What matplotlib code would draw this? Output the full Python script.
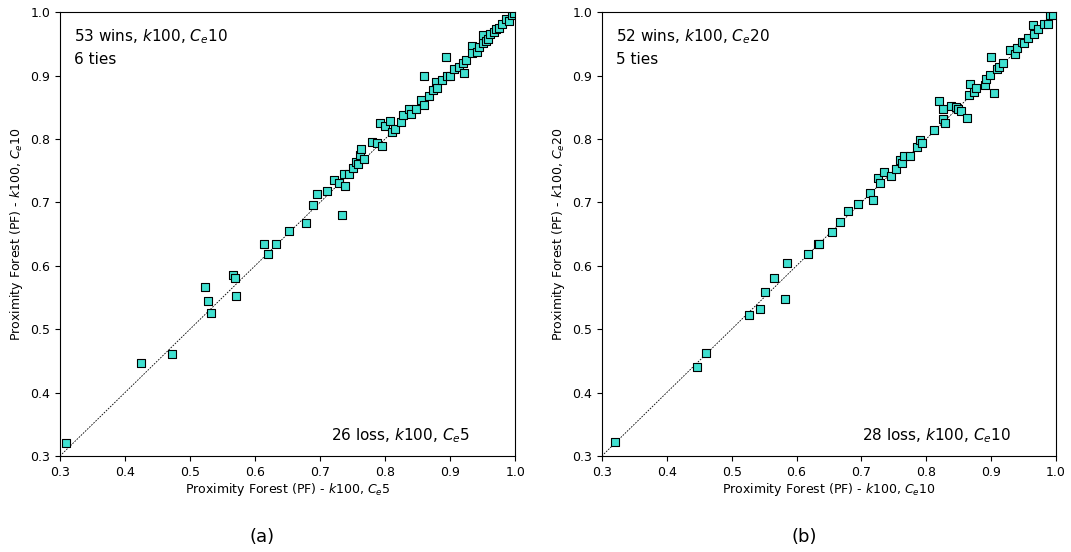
import numpy as np
import matplotlib.pyplot as plt

# accuracy per dataset, panel (a): Ce5 (x) vs Ce10 (y)
a_x = [0.310, 0.425, 0.473, 0.523, 0.527, 0.533, 0.566, 0.569, 0.570, 0.613,
       0.620, 0.632, 0.652, 0.679, 0.689, 0.696, 0.710, 0.722, 0.729, 0.733,
       0.737, 0.739, 0.745, 0.750, 0.756, 0.758, 0.761, 0.763, 0.768, 0.780,
       0.788, 0.792, 0.796, 0.800, 0.808, 0.810, 0.815, 0.824, 0.828, 0.836,
       0.840, 0.848, 0.855, 0.860, 0.860, 0.867, 0.874, 0.878, 0.880, 0.887,
       0.893, 0.895, 0.900, 0.906, 0.914, 0.920, 0.922, 0.925, 0.933, 0.933,
       0.941, 0.945, 0.950, 0.951, 0.955, 0.959, 0.962, 0.967, 0.971, 0.975,
       0.980, 0.986, 0.990, 0.995, 0.998]
a_y = [0.321, 0.447, 0.461, 0.566, 0.545, 0.526, 0.586, 0.581, 0.553, 0.635,
       0.618, 0.635, 0.655, 0.668, 0.696, 0.713, 0.718, 0.735, 0.730, 0.680,
       0.744, 0.726, 0.745, 0.754, 0.764, 0.760, 0.774, 0.784, 0.768, 0.795,
       0.794, 0.825, 0.789, 0.820, 0.829, 0.811, 0.815, 0.827, 0.838, 0.847,
       0.840, 0.848, 0.862, 0.853, 0.900, 0.868, 0.877, 0.890, 0.880, 0.893,
       0.929, 0.899, 0.900, 0.910, 0.914, 0.919, 0.904, 0.925, 0.946, 0.936,
       0.937, 0.945, 0.952, 0.964, 0.955, 0.957, 0.966, 0.968, 0.973, 0.975,
       0.981, 0.989, 0.986, 0.995, 0.998]

# panel (b): Ce10 (x) vs Ce20 (y)
b_x = [0.320, 0.447, 0.461, 0.526, 0.544, 0.552, 0.566, 0.582, 0.586, 0.618,
       0.633, 0.635, 0.655, 0.667, 0.680, 0.695, 0.713, 0.718, 0.726, 0.729,
       0.735, 0.745, 0.754, 0.760, 0.762, 0.766, 0.775, 0.785, 0.791, 0.794,
       0.812, 0.820, 0.826, 0.826, 0.829, 0.838, 0.846, 0.849, 0.853, 0.863,
       0.866, 0.867, 0.874, 0.877, 0.891, 0.892, 0.898, 0.905, 0.900, 0.909,
       0.912, 0.919, 0.929, 0.937, 0.940, 0.947, 0.951, 0.957, 0.964, 0.966,
       0.973, 0.982, 0.988, 0.991, 0.995]
b_y = [0.322, 0.441, 0.463, 0.523, 0.532, 0.559, 0.581, 0.547, 0.605, 0.618,
       0.634, 0.634, 0.653, 0.669, 0.687, 0.698, 0.714, 0.704, 0.739, 0.731,
       0.748, 0.742, 0.753, 0.767, 0.762, 0.773, 0.773, 0.788, 0.799, 0.794,
       0.814, 0.860, 0.847, 0.831, 0.825, 0.852, 0.850, 0.848, 0.844, 0.833,
       0.869, 0.886, 0.874, 0.881, 0.885, 0.895, 0.901, 0.872, 0.930, 0.910,
       0.914, 0.919, 0.940, 0.934, 0.943, 0.953, 0.952, 0.960, 0.979, 0.966,
       0.973, 0.982, 0.982, 0.995, 0.995]

panels = [
    (a_x, a_y, "$k100$, $C_e5$", "$k100$, $C_e10$", "53 wins, $k100$, $C_e10$", "6 ties",
     "26 loss, $k100$, $C_e5$", "(a)"),
    (b_x, b_y, "$k100$, $C_e10$", "$k100$, $C_e20$", "52 wins, $k100$, $C_e20$", "5 ties",
     "28 loss, $k100$, $C_e10$", "(b)"),
]

fig = plt.figure(figsize=(10.71, 5.52), dpi=100)
rects = [[0.056, 0.174, 0.425, 0.804], [0.562, 0.174, 0.424, 0.804]]
ticks = np.arange(0.3, 1.01, 0.1)

for rect, (xs, ys, xl, yl, win, tie, loss, cap) in zip(rects, panels):
    ax = fig.add_axes(rect)
    ax.plot([0.3, 1.0], [0.3, 1.0], 'k--', lw=0.6, dashes=(2, 1.5), zorder=1)
    ax.scatter(xs, ys, marker='s', s=36, c='#40E0D0', edgecolors='black',
               linewidths=0.8, zorder=2)
    ax.set_xlim(0.3, 1.0)
    ax.set_ylim(0.3, 1.0)
    ax.set_xticks(ticks)
    ax.set_yticks(ticks)
    ax.set_xticklabels([f"{t:.1f}" for t in ticks])
    ax.set_yticklabels([f"{t:.1f}" for t in ticks])
    ax.tick_params(labelsize=9, length=3.5, width=0.8)
    ax.set_xlabel("Proximity Forest (PF) - " + xl, fontsize=9, labelpad=2)
    ax.set_ylabel("Proximity Forest (PF) - " + yl, fontsize=9, labelpad=4)
    ax.text(0.03, 0.965, win, transform=ax.transAxes, fontsize=11, va='top')
    ax.text(0.03, 0.91, tie, transform=ax.transAxes, fontsize=11, va='top')
    ax.text(0.9, 0.025, loss, transform=ax.transAxes, fontsize=11, ha='right', va='bottom')
    ax.text(0.445, -0.183, cap, transform=ax.transAxes, fontsize=13, ha='center', va='center')

fig.savefig("out.png", dpi=100)
